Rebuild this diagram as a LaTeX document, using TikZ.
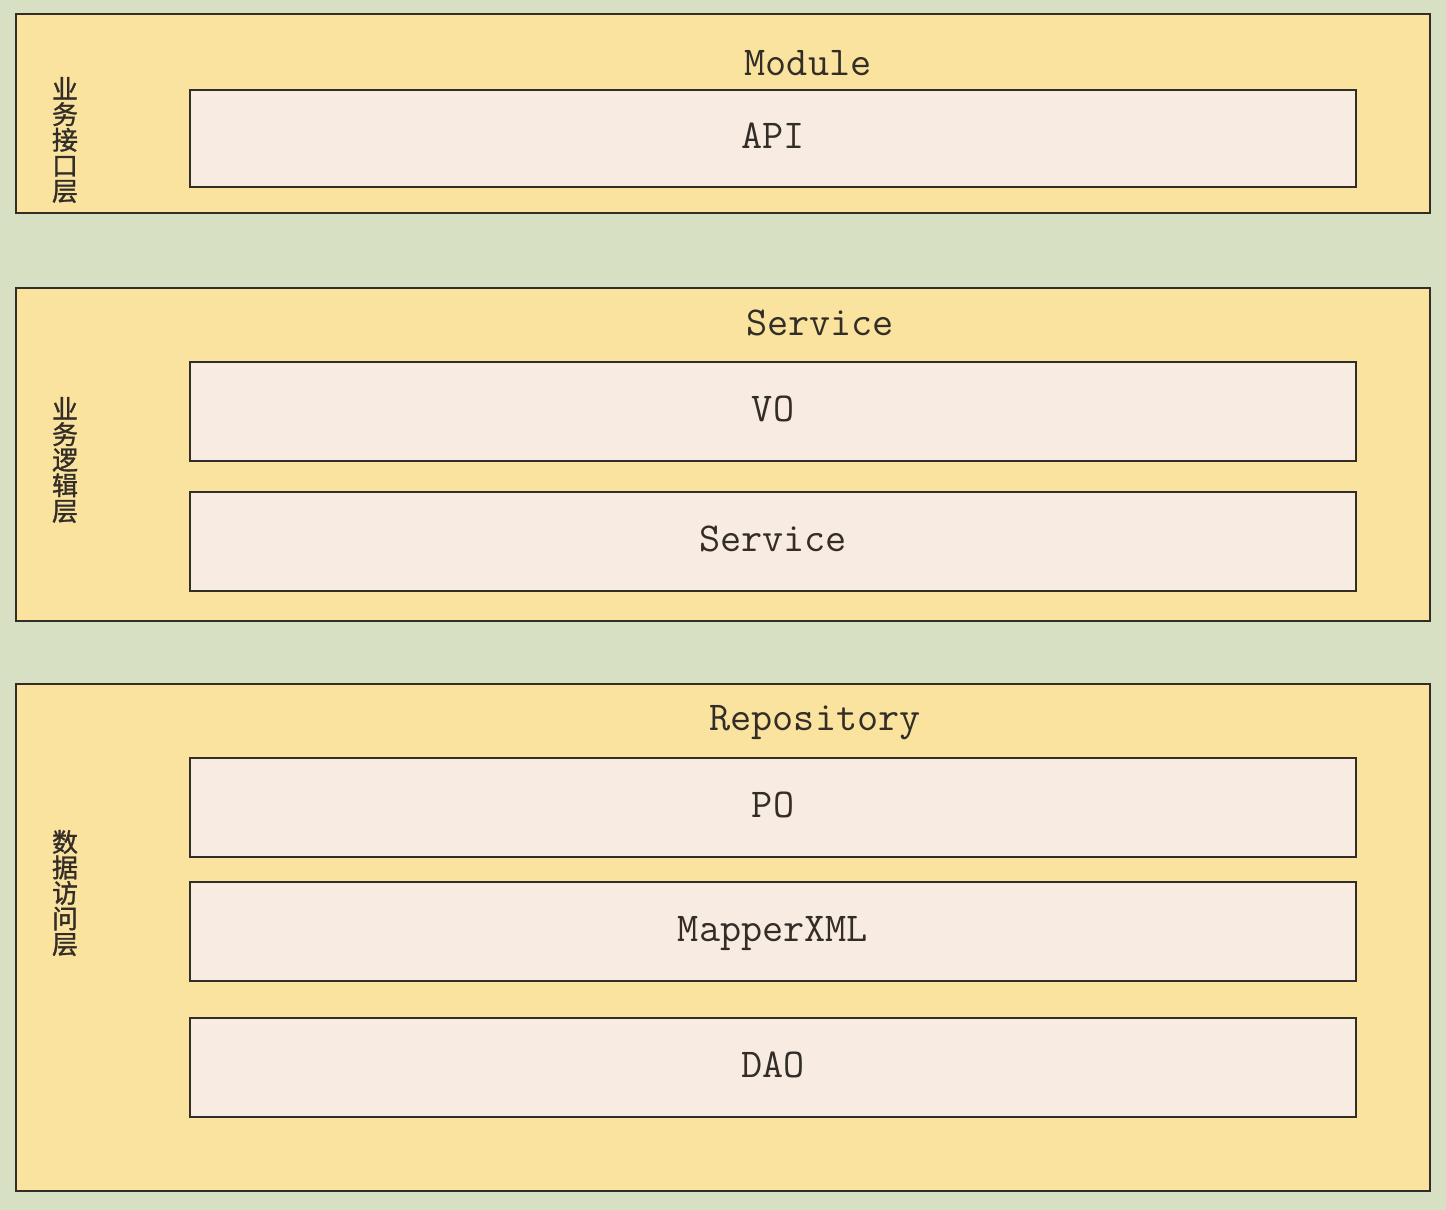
\documentclass[tikz,border=0pt]{standalone}
\usepackage{fontspec}
\newfontfamily\cjk[FakeBold=1.2]{Noto Sans CJK SC}
\definecolor{bgcol}{RGB}{216,224,196}
\definecolor{layercol}{RGB}{250,227,158}
\definecolor{boxcol}{RGB}{248,236,226}
\definecolor{linecol}{RGB}{51,45,40}
\begin{document}
\begin{tikzpicture}[x=1pt,y=-1pt,
  layer/.style={draw=linecol,line width=2pt,fill=layercol,minimum width=1414pt,inner sep=0pt,outer sep=0pt},
  item/.style={draw=linecol,line width=2pt,fill=boxcol,minimum width=1166pt,minimum height=99pt,inner sep=0pt,outer sep=0pt,font=\fontsize{41}{45}\selectfont\ttfamily,text=linecol,text height=19pt,text depth=0pt},
  title/.style={font=\fontsize{41}{45}\selectfont\ttfamily,text=linecol,inner sep=0pt,text height=27pt,text depth=0pt},
  side/.style={font=\fontsize{26}{25.5}\selectfont\cjk,text=linecol,align=center,inner sep=0pt}]
\fill[bgcol] (0,0) rectangle (1446,1210);
\useasboundingbox (0,0) rectangle (1446,1210);
% layers
\node[layer,minimum height=199pt] (L1) at (723,113.5) {};
\node[layer,minimum height=333pt] (L2) at (723,454.5) {};
\node[layer,minimum height=507pt] (L3) at (723,937.5) {};
% titles
\node[title] (T1) at (808,62) {Module};
\node[title] (T2) at (820,322) {Service};
\node[title] (T3) at (815,717) {Repository};
% side labels
\node[side] (S1) at (65,140) {业\\务\\接\\口\\层};
\node[side] (S2) at (65,460) {业\\务\\逻\\辑\\层};
\node[side] (S3) at (65,893) {数\\据\\访\\问\\层};
% items
\node[item,minimum height=97pt] (api) at (773,138.5) {API};
\node[item] (vo) at (773,411.5) {VO};
\node[item] (svc) at (773,541.5) {Service};
\node[item] (po) at (773,807.5) {PO};
\node[item] (xml) at (773,931.5) {MapperXML};
\node[item] (dao) at (773,1067.5) {DAO};
\end{tikzpicture}
\end{document}
